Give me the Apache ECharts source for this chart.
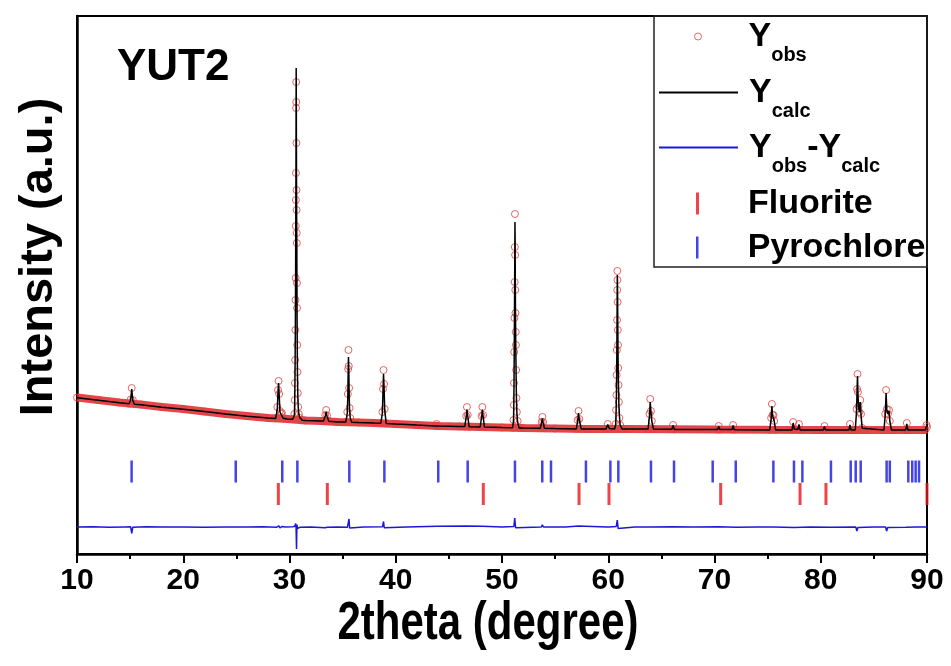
<!DOCTYPE html>
<html>
<head>
<meta charset="utf-8">
<script src="https://cdn.jsdelivr.net/npm/echarts@6/dist/echarts.min.js"></script>
<style>
  html, body { margin: 0; padding: 0; background: #fff; }
  #chart { width: 951px; height: 666px; }
</style>
</head>
<body>
<div id="chart"></div>
<script>
// YUT2 powder diffraction pattern with its Rietveld refinement.

// Scan angles (2theta, degree) with observed and calculated intensities
const twoTheta = [
  10.0, 12.0, 14.0, 14.9, 15.05, 15.15, 15.25, 15.4, 16.0, 18.0, 20.0, 22.0, 24.0, 26.0, 28.0,
  28.7, 28.85, 28.92, 28.97, 29.03, 29.1, 29.22, 29.28, 29.4, 29.8,
  30.3, 30.46, 30.49, 30.51, 30.53, 30.55, 30.565, 30.575, 30.59, 30.6, 30.61, 30.62, 30.63,
  30.64, 30.65, 30.66, 30.67, 30.68, 30.69, 30.70, 30.71, 30.73, 30.75, 30.78, 30.82, 30.88, 30.96,
  31.2, 31.5, 33.0, 33.2, 33.37, 33.45, 33.53, 33.7, 34.5,
  35.3, 35.44, 35.49, 35.52, 35.55, 35.58, 35.61, 35.65, 35.72, 35.85, 36.5,
  38.0, 38.6, 38.74, 38.8, 38.85, 38.9, 38.96, 39.1, 40.0, 42.0,
  43.7, 43.85, 44.0, 46.0, 46.5, 46.63, 46.7, 46.77, 46.9,
  47.95, 48.08, 48.15, 48.22, 48.35, 50.0,
  51.0, 51.08, 51.11, 51.13, 51.15, 51.17, 51.19, 51.21, 51.22, 51.235, 51.25, 51.27, 51.29,
  51.31, 51.33, 51.36, 51.4, 51.47, 51.6, 52.0,
  53.6, 53.73, 53.8, 53.87, 54.0, 55.0, 57.0, 57.12, 57.2, 57.28, 57.45, 58.0,
  59.8, 59.95, 60.1, 60.6, 60.7, 60.74, 60.77, 60.79, 60.81, 60.83, 60.845, 60.855, 60.865,
  60.88, 60.9, 60.92, 60.94, 60.97, 61.0, 61.05, 61.12, 61.3, 62.0,
  63.75, 63.88, 63.95, 64.02, 64.1, 64.25, 66.0, 66.1, 66.22,
  70.3, 70.4, 70.5, 71.65, 71.75, 71.85,
  75.2, 75.33, 75.4, 75.47, 75.55, 75.62, 75.75,
  77.3, 77.4, 77.5, 77.85, 77.95, 78.05, 80.25, 80.35, 80.45, 82.65, 82.75, 82.85,
  83.25, 83.37, 83.42, 83.46, 83.5, 83.56, 83.64, 83.72, 83.79, 83.9, 84.05,
  85.95, 86.07, 86.15, 86.22, 86.32, 86.42, 86.5, 86.65,
  88.0, 88.1, 88.2, 89.85, 89.95, 90.0
];
const yObs = [
  1565, 1540, 1515, 1502, 1545, 1660, 1540, 1498, 1495, 1470, 1450, 1425, 1400, 1380, 1360,
  1358, 1470, 1640, 1730, 1600, 1430, 1400, 1410, 1360, 1350,
  1348, 1400, 1540, 1710, 1940, 2240, 2540, 2760, 3280, 3540, 3810, 4460, 4720,
  4520, 4110, 3640, 3440, 3210, 3110, 2710, 2460, 2090, 1820, 1610, 1470, 1400, 1360,
  1338, 1335, 1330, 1330, 1390, 1440, 1385, 1328, 1320,
  1320, 1420, 1600, 1850, 2040, 1880, 1660, 1460, 1360, 1318, 1315,
  1310, 1309, 1420, 1650, 1840, 1700, 1450, 1306, 1300, 1290,
  1282, 1300, 1280, 1276, 1275, 1380, 1470, 1390, 1274,
  1271, 1380, 1470, 1390, 1270, 1265,
  1262, 1340, 1490, 1710, 2020, 2360, 2720, 3070, 3400, 2990, 2640, 2410, 2220,
  2090, 1840, 1560, 1420, 1330, 1262, 1260,
  1258, 1320, 1370, 1320, 1258, 1255, 1252, 1340, 1430, 1350, 1252, 1250,
  1250, 1300, 1255, 1250, 1300, 1440, 1590, 1790, 2040, 2340, 2640, 2830, 2740,
  2520, 2240, 2090, 1860, 1690, 1520, 1360, 1290, 1250, 1250,
  1250, 1400, 1550, 1430, 1330, 1250, 1248, 1290, 1247,
  1245, 1280, 1245, 1245, 1290, 1244,
  1242, 1360, 1500, 1390, 1390, 1330, 1242,
  1242, 1320, 1250, 1245, 1300, 1242, 1240, 1280, 1240, 1240, 1300, 1242,
  1240, 1450, 1650, 1800, 1620, 1480, 1420, 1540, 1400, 1260, 1240,
  1240, 1400, 1640, 1450, 1400, 1440, 1330, 1240,
  1240, 1310, 1242, 1242, 1290, 1270
];
const yCalc = [
  1562, 1538, 1513, 1502, 1540, 1650, 1535, 1498, 1493, 1468, 1448, 1424, 1399, 1378, 1359,
  1356, 1450, 1620, 1710, 1590, 1420, 1395, 1400, 1358, 1350,
  1347, 1390, 1520, 1700, 1930, 2250, 2560, 2800, 3300, 3600, 3900, 4500, 4860,
  4560, 4150, 3680, 3460, 3230, 3100, 2700, 2450, 2080, 1800, 1600, 1470, 1400, 1365,
  1338, 1335, 1329, 1329, 1380, 1420, 1378, 1327, 1320,
  1319, 1410, 1580, 1800, 1970, 1850, 1640, 1450, 1355, 1318, 1314,
  1309, 1308, 1410, 1630, 1800, 1670, 1440, 1306, 1299, 1289,
  1281, 1295, 1280, 1275, 1275, 1370, 1445, 1385, 1273,
  1270, 1370, 1445, 1380, 1269, 1264,
  1262, 1330, 1470, 1680, 1990, 2330, 2700, 3100, 3320, 3150, 2750, 2400, 2150,
  1950, 1780, 1550, 1410, 1320, 1261, 1259,
  1257, 1315, 1355, 1315, 1257, 1254, 1251, 1330, 1410, 1340, 1251, 1249,
  1249, 1295, 1254, 1250, 1295, 1430, 1580, 1780, 2030, 2350, 2650, 2790, 2740,
  2560, 2250, 2000, 1800, 1650, 1500, 1380, 1290, 1250, 1249,
  1249, 1380, 1520, 1420, 1330, 1249, 1247, 1285, 1246,
  1244, 1275, 1244, 1244, 1285, 1243,
  1241, 1350, 1480, 1385, 1380, 1330, 1241,
  1241, 1310, 1249, 1244, 1295, 1241, 1239, 1275, 1239, 1239, 1290, 1241,
  1239, 1430, 1640, 1780, 1600, 1470, 1420, 1520, 1390, 1258, 1239,
  1239, 1390, 1610, 1440, 1400, 1430, 1330, 1239,
  1239, 1300, 1241, 1241, 1280, 1268
];

// Observed trace between the reflections (the dense run of scan points)
const baseTheta = [10, 12, 14, 15, 16, 18, 20, 22, 24, 26, 28, 29.8, 31.5, 33, 34.5, 36.5, 38,
  40, 42, 44, 46, 48, 50, 52, 55, 58, 62, 66, 70, 75, 80, 85, 90];
const baseObs = [1565, 1540, 1515, 1505, 1495, 1470, 1450, 1425, 1400, 1380, 1360, 1350, 1335,
  1330, 1320, 1315, 1310, 1300, 1290, 1280, 1275, 1270, 1265, 1260, 1255, 1250, 1250, 1248,
  1245, 1242, 1240, 1240, 1240];

// Difference curve Yobs - Ycalc
const diffTheta = [
  10, 11.5, 13, 14.5, 15.05, 15.15, 15.25, 16.5, 18, 20, 22, 24, 26, 27.5,
  28.8, 28.9, 29.0, 29.1, 29.2, 29.3, 29.4, 29.6,
  30.3, 30.5, 30.58, 30.62, 30.66, 30.7, 30.76, 30.85, 31.0, 32,
  33.35, 33.45, 33.55, 34.5, 35.45, 35.55, 35.6, 35.66, 35.75, 37,
  38.75, 38.85, 38.92, 39.0, 41, 43.9, 44.05, 46.65, 46.8, 48.15, 48.3, 50,
  51.12, 51.2, 51.28, 51.4, 53.7, 53.8, 53.9, 54.5, 54.6, 54.7, 56, 57.2, 57.35,
  59.9, 60.0, 60.1, 60.75, 60.85, 60.93, 61.05, 62.5, 63.9, 63.97, 64.05, 66.1, 68,
  70.4, 72, 74, 75.35, 75.45, 75.55, 77.5, 79, 81, 83.3, 83.4, 83.5, 83.6, 85,
  86.1, 86.2, 86.3, 86.4, 88, 89, 90
];
const yDiff = [
  0, 2, -2, 1, 2, -65, -2, 2, -1, 1, -2, 1, -1, 2,
  -2, -10, 12, -10, 2, 6, -3, 1,
  2, 8, 35, -10, -220, 25, -15, 5, -2, 1,
  -8, 10, -2, 1, -3, 5, 80, -10, 2, -1,
  2, 55, -8, 1, -1, 8, 0, 10, 0, 8, 0, 1,
  5, 90, -8, 2, 0, 22, 0, 0, 15, 0, 1, 10, 0,
  0, 6, 0, 5, 70, -15, 2, -1, 0, 15, 0, 3, -1,
  3, -2, 1, 0, -20, 0, -5, 1, -2, 0, -40, -5, 2, -1,
  0, -40, -5, 1, -2, 1, 0
];

// Bragg reflection positions (2theta) of the two phases
const fluoritePeaks = [28.95, 33.56, 48.24, 57.25, 60.07, 70.58, 78.05, 80.49, 90.0];
const pyrochlorePeaks = [15.14, 24.94, 29.32, 30.74, 35.63, 38.93, 44.0, 46.77, 51.22, 53.79,
  54.61, 57.9, 60.2, 60.95, 64.02, 66.19, 69.83, 72.0, 75.54, 77.48, 78.27, 80.96, 82.82,
  83.29, 83.76, 86.2, 86.5, 88.24, 88.61, 88.93, 89.25];

// Axis range
const xMin = 10, xMax = 90, xStep = 10;
const yMin = 0, yMax = 5380;

// Vertical placement of the difference curve and the reflection rows
const diffOffset = 270;
const pyrochloreRow = 825;
const fluoriteRow = 600;

const FONT = '"Liberation Sans", Arial, Helvetica, sans-serif';

const obsData = twoTheta.map((t, i) => [t, yObs[i]]);
const calcData = twoTheta.map((t, i) => [t, yCalc[i]]);
const baseData = baseTheta.map((t, i) => [t, baseObs[i]]);
const diffData = diffTheta.map((t, i) => [t, yDiff[i] + diffOffset]);
const fluoriteData = fluoritePeaks.map(t => [t, fluoriteRow]);
const pyrochloreData = pyrochlorePeaks.map(t => [t, pyrochloreRow]);

const legendRich = {
  m: { fontFamily: FONT, fontWeight: 'bold', fontSize: 34, lineHeight: 34, color: '#000' },
  s: { fontFamily: FONT, fontWeight: 'bold', fontSize: 20, lineHeight: 34, padding: [37, 0, 0, 0], color: '#000' }
};
const hiddenMarker = { color: 'transparent', borderColor: 'transparent', borderWidth: 0, opacity: 0 };

function legendRow(name, text, top, opts) {
  return Object.assign({
    show: true,
    orient: 'vertical',
    left: 658,
    top: top,
    padding: 0,
    itemWidth: 79,
    itemHeight: 14,
    selectedMode: false,
    formatter: text,
    textStyle: { padding: [0, 0, 0, 6], rich: legendRich },
    data: [{ name: name }]
  }, opts || {});
}

const chart = echarts.init(document.getElementById('chart'), null, { renderer: 'canvas' });

chart.setOption({
  animation: false,
  backgroundColor: '#fff',
  title: {
    text: 'YUT2',
    left: 117,
    top: 46,
    padding: 0,
    textStyle: { fontFamily: FONT, fontWeight: 'bold', fontSize: 44, color: '#000' }
  },
  grid: {
    left: 77, right: 24, top: 16, bottom: 112,
    show: true, borderColor: '#000', borderWidth: 2, backgroundColor: 'transparent'
  },
  xAxis: {
    type: 'value',
    min: xMin, max: xMax, interval: xStep,
    axisLine: { show: true, onZero: false, lineStyle: { color: '#000', width: 2.5 } },
    axisTick: { show: true, inside: false, length: 9, lineStyle: { color: '#000', width: 2 } },
    minorTick: { show: true, splitNumber: 2, length: 5, lineStyle: { color: '#000', width: 2 } },
    axisLabel: { margin: 12, fontFamily: FONT, fontWeight: 'bold', fontSize: 30, color: '#000' },
    splitLine: { show: false }
  },
  yAxis: {
    type: 'value',
    min: yMin, max: yMax,
    name: 'Intensity (a.u.)',
    nameLocation: 'middle',
    nameGap: 14,
    nameRotate: 90,
    nameTextStyle: { fontFamily: FONT, fontWeight: 'bold', fontSize: 47, color: '#000', padding: [0, 0, 0, 56] },
    axisLine: { show: true, lineStyle: { color: '#000', width: 2.5 } },
    axisTick: { show: false },
    axisLabel: { show: false },
    splitLine: { show: false }
  },
  legend: [
    legendRow('Yobs', '{m|Y}{s|obs}', 8, {
      left: 694,
      itemHeight: 7,
      data: [{ name: 'Yobs', icon: 'circle' }],
      itemStyle: { color: 'transparent', borderColor: '#e0413d', borderWidth: 1 }
    }),
    legendRow('Ycalc', '{m|Y}{s|calc}', 64, { itemStyle: hiddenMarker }),
    legendRow('Yobs-Ycalc', '{m|Y}{s|obs}{m|-Y}{s|calc}', 119, { itemStyle: hiddenMarker }),
    legendRow('Fluorite', '{m|Fluorite}', 186.5, {
      left: 696,
      itemHeight: 22,
      data: [{ name: 'Fluorite', icon: 'path://M0 0H3V22H0Z' }]
    }),
    legendRow('Pyrochlore', '{m|Pyrochlore}', 230.5, {
      left: 696,
      itemHeight: 22,
      data: [{ name: 'Pyrochlore', icon: 'path://M0 0H2.5V22H0Z' }]
    })
  ],
  graphic: [
    {
      type: 'rect',
      shape: { x: 654, y: 16, width: 273, height: 251 },
      style: { fill: 'transparent', stroke: '#222', lineWidth: 1.5 },
      z: 10
    },
    {
      // x-axis title, set in a condensed bold face
      type: 'text',
      x: 488, y: 624,
      scaleX: 0.84, scaleY: 1.08,
      style: {
        text: '2theta (degree)',
        font: 'bold 50px "Liberation Sans", Arial, sans-serif',
        fill: '#000',
        textAlign: 'center',
        textVerticalAlign: 'middle'
      },
      z: 10
    }
  ],
  series: [
    {
      name: 'Yobs',
      type: 'scatter',
      data: obsData,
      symbol: 'circle',
      symbolSize: 7,
      itemStyle: { color: 'transparent', borderColor: '#e0413d', borderWidth: 1, opacity: 0.8 },
      z: 2
    },
    {
      name: 'Yobs',
      type: 'line',
      data: baseData,
      symbol: 'none',
      lineStyle: { color: '#e0262a', width: 8, opacity: 0.85 },
      z: 1
    },
    {
      name: 'Ycalc',
      type: 'line',
      data: calcData,
      symbol: 'none',
      lineStyle: { color: '#000', width: 1.5 },
      z: 3
    },
    {
      name: 'Yobs-Ycalc',
      type: 'line',
      data: diffData,
      symbol: 'none',
      lineStyle: { color: '#1a1ad6', width: 1.5 },
      z: 3
    },
    {
      name: 'Fluorite',
      type: 'scatter',
      data: fluoriteData,
      symbol: 'rect',
      symbolSize: [3, 22],
      itemStyle: { color: '#e8141c' },
      z: 3
    },
    {
      name: 'Pyrochlore',
      type: 'scatter',
      data: pyrochloreData,
      symbol: 'rect',
      symbolSize: [2.5, 22],
      itemStyle: { color: '#1414e0' },
      z: 3
    }
  ]
});
</script>
</body>
</html>
